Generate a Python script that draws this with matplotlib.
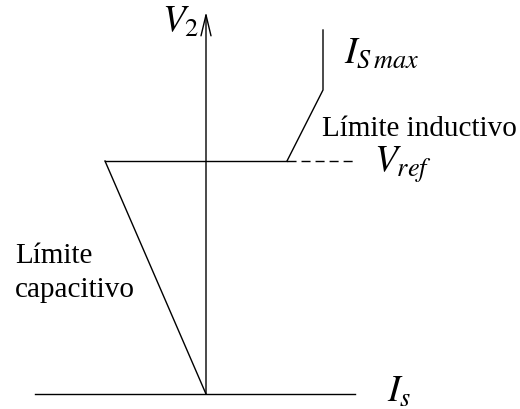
import matplotlib
matplotlib.use("Agg")
import matplotlib.pyplot as plt

plt.rcParams['mathtext.fontset'] = 'stix'
plt.rcParams['font.family'] = ['Liberation Serif', 'DejaVu Serif']

# Diagram geometry (data units: I_s horizontal, V_2 vertical)
v_ref = 233
cap_x = [-101, 0]          # capacitive limit line
cap_y = [v_ref, 0]
ref_x = [-101, 81]         # V_ref horizontal segment
ref_y = [v_ref, v_ref]
ind_x = [81, 117, 117]     # inductive limit then I_Smax
ind_y = [v_ref, 304, 364]
dash_x = [81, 149]         # dashed V_ref extension
dash_y = [v_ref, v_ref]
is_axis_x = [-171, 149]
is_axis_y = [0, 0]
v_axis_top = 382

fig = plt.figure(figsize=(5.2, 4.09), dpi=100)
ax = fig.add_axes([0, 0, 1, 1])
ax.set_xlim(-206, 314)
ax.set_ylim(-15, 394)
ax.axis('off')

lw = 1.0
ax.plot(cap_x, cap_y, color='black', lw=lw)
ax.plot(ref_x, ref_y, color='black', lw=lw)
ax.plot(ind_x, ind_y, color='black', lw=lw)
ax.plot(dash_x, dash_y, color='black', lw=lw, linestyle=(0, (6.5, 3.6)))
ax.plot(is_axis_x, is_axis_y, color='black', lw=lw)
ax.annotate('', xy=(0, v_axis_top), xytext=(0, 0),
            arrowprops=dict(arrowstyle='->,head_length=15,head_width=3.6',
                            mutation_scale=1, lw=lw, color='black',
                            shrinkA=0, shrinkB=0))

ms = 27
ax.text(-44, 362, r'$V_2$', fontsize=ms, ha='left', va='baseline')
ax.text(138, 331, r'$I_{S\,max}$', fontsize=ms, ha='left', va='baseline')
ax.text(168, 222, r'$V_{ref}$', fontsize=ms, ha='left', va='baseline')
ax.text(181, -8, r'$I_s$', fontsize=ms, ha='left', va='baseline')

ts = 21
ax.text(116, 258, 'Límite inductivo', fontsize=ts, ha='left', va='baseline')
ax.text(-191, 131, 'Límite', fontsize=ts, ha='left', va='baseline')
ax.text(-191, 97, 'capacitivo', fontsize=ts, ha='left', va='baseline')

fig.savefig('out.png', dpi=100)
